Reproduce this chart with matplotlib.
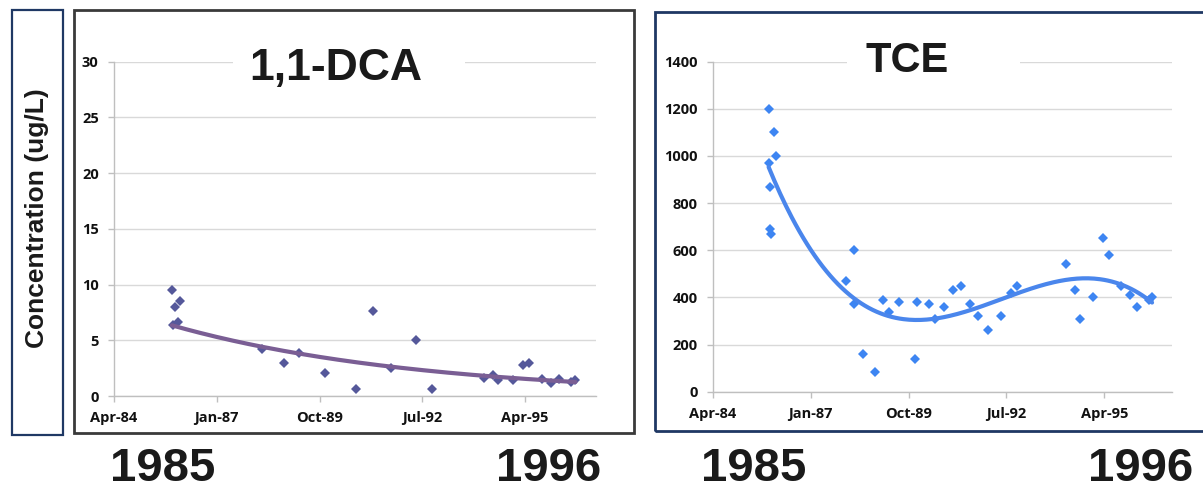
import matplotlib
matplotlib.use("Agg")
import matplotlib.pyplot as plt
import numpy as np
from matplotlib.patches import Rectangle

# ---------------- data (decimal years, ug/L) ----------------
dca_dates = [1985.80, 1985.88, 1986.02, 1985.82, 1985.97, 1988.21, 1988.80, 1989.20,
             1989.91, 1990.72, 1991.18, 1991.67, 1992.32, 1992.77, 1994.14, 1994.40,
             1994.54, 1994.94, 1995.19, 1995.36, 1995.71, 1995.94, 1996.16, 1996.47,
             1996.60]
dca_values = [9.5, 8.0, 8.5, 6.4, 6.6, 4.2, 3.0, 3.9,
              2.1, 0.6, 7.6, 2.5, 5.0, 0.6, 1.6, 1.9,
              1.4, 1.4, 2.8, 3.0, 1.5, 1.2, 1.5, 1.3,
              1.4]

tce_dates = [1985.82, 1985.97, 1986.04, 1985.84, 1985.87, 1985.86, 1985.89,
             1987.99, 1988.23, 1988.21, 1988.48, 1988.81,
             1989.04, 1989.21, 1989.49, 1989.93, 1989.99,
             1990.33, 1990.49, 1990.74, 1990.99,
             1991.21, 1991.48, 1991.70, 1991.98,
             1992.35, 1992.62, 1992.81,
             1994.17, 1994.42, 1994.58, 1994.94,
             1995.22, 1995.38, 1995.71, 1995.98,
             1996.17, 1996.50, 1996.59]
tce_values = [1200, 1100, 1000, 970, 870, 690, 670,
              470, 600, 370, 160, 85,
              390, 340, 380, 140, 380,
              370, 310, 360, 430,
              450, 370, 320, 260,
              320, 420, 450,
              540, 430, 310, 400,
              650, 580, 450, 410,
              360, 390, 400]

x_tick_pos = [1984.25, 1987.0, 1989.75, 1992.5, 1995.25]
x_tick_labels = ["Apr-84", "Jan-87", "Oct-89", "Jul-92", "Apr-95"]
dca_yticks = [0, 5, 10, 15, 20, 25, 30]
tce_yticks = [0, 200, 400, 600, 800, 1000, 1200, 1400]
titles = ["1,1-DCA", "TCE"]
year_labels = ["1985", "1996"]
y_label = "Concentration (ug/L)"

# ---------------- figure ----------------
W, H = 1203, 492
fig = plt.figure(figsize=(W / 100, H / 100), dpi=100)
fig.patch.set_facecolor("white")


def fx(px):
    return px / W


def fy(py):
    return 1 - py / H


def axes_px(x0, x1, ytop, ybot):
    return fig.add_axes([fx(x0), fy(ybot), (x1 - x0) / W, (ybot - ytop) / H])


def frame(x0, y0, x1, y1, color, lw, z=1):
    fig.patches.append(Rectangle((fx(x0), fy(y1)), (x1 - x0) / W, (y1 - y0) / H,
                                 transform=fig.transFigure, fill=False,
                                 edgecolor=color, linewidth=lw, zorder=z))


def whitebox(x0, y0, x1, y1):
    fig.patches.append(Rectangle((fx(x0), fy(y1)), (x1 - x0) / W, (y1 - y0) / H,
                                 transform=fig.transFigure, facecolor="white",
                                 edgecolor="none", zorder=5))


TICKFONT = dict(family="Open Sans", weight="bold", size=10.5)
XMIN, XMAX = 1984.25, 1997.15


def style_axes(ax, yticks, ymax):
    ax.set_facecolor("none")
    ax.set_xlim(XMIN, XMAX)
    ax.set_ylim(0, ymax)
    for s in ("top", "right"):
        ax.spines[s].set_visible(False)
    for s in ("left", "bottom"):
        ax.spines[s].set_color("#BFBFBF")
        ax.spines[s].set_linewidth(1.0)
    ax.set_xticks(x_tick_pos)
    ax.set_xticklabels(x_tick_labels, **TICKFONT)
    ax.set_yticks(yticks)
    ax.set_yticklabels([str(v) for v in yticks], **TICKFONT)
    ax.tick_params(axis="both", direction="out", length=4, width=1,
                   color="#BFBFBF", labelcolor="#111111")
    ax.tick_params(axis="y", pad=7)
    ax.tick_params(axis="x", pad=7)
    ax.yaxis.grid(True, color="#D9D9D9", linewidth=1.0)
    ax.set_axisbelow(True)


# outer frames
frame(12, 10, 63, 435, "#1F3864", 1.6)
frame(74, 10, 634, 433, "#3A3A3A", 2.0)
frame(655, 12, 1230, 431, "#1F3864", 2.0)

# ---- left chart: 1,1-DCA ----
ax1 = axes_px(114, 596, 61.7, 396)
style_axes(ax1, dca_yticks, 30)
ax1.plot(dca_dates, dca_values, linestyle="none", marker="D", ms=5.3,
         color="#55589A", markeredgewidth=0, zorder=3)
t = np.array(dca_dates)
v = np.array(dca_values)
b, a = np.polyfit(t - 1990, np.log(v), 1)
tt = np.linspace(t.min(), t.max(), 200)
ax1.plot(tt, np.exp(a + b * (tt - 1990)), color="#7A5E94", lw=3.0,
         solid_capstyle="round", zorder=4)

# ---- right chart: TCE ----
ax2 = axes_px(712.7, 1172, 61.7, 391.7)
style_axes(ax2, tce_yticks, 1400)
ax2.plot(tce_dates, tce_values, linestyle="none", marker="D", ms=5.0,
         color="#3D85F2", markeredgewidth=0, zorder=3)
t2 = np.array(tce_dates)
v2 = np.array(tce_values)
poly = np.polynomial.Polynomial.fit(t2, v2, 3)
tt2 = np.linspace(t2.min(), t2.max(), 200)
ax2.plot(tt2, poly(tt2), color="#4A86EC", lw=3.0, solid_capstyle="round", zorder=4)

# titles (white boxes interrupt the top gridline)
whitebox(233, 36, 465, 90)
whitebox(847, 36, 1020, 90)
fig.text(fx(336), fy(80), titles[0], ha="center", va="baseline",
         family="Liberation Sans", weight="bold", size=32, color="#1A1A1A", zorder=6)
fig.text(fx(907), fy(72), titles[1], ha="center", va="baseline",
         family="Liberation Sans", weight="bold", size=30, color="#1A1A1A", zorder=6)

# y label
fig.text(fx(37), fy(218), y_label, rotation=90, ha="center", va="center",
         family="Liberation Sans", weight="bold", size=19, color="#1A1A1A")

# big year labels
for xc, lab in [(163, year_labels[0]), (549, year_labels[1]),
                (754, year_labels[0]), (1141, year_labels[1])]:
    fig.text(fx(xc), fy(491), lab, ha="center", va="bottom",
             family="Liberation Sans", weight="bold", size=34, color="#1A1A1A")

fig.savefig("out.png", dpi=100, facecolor="white")
